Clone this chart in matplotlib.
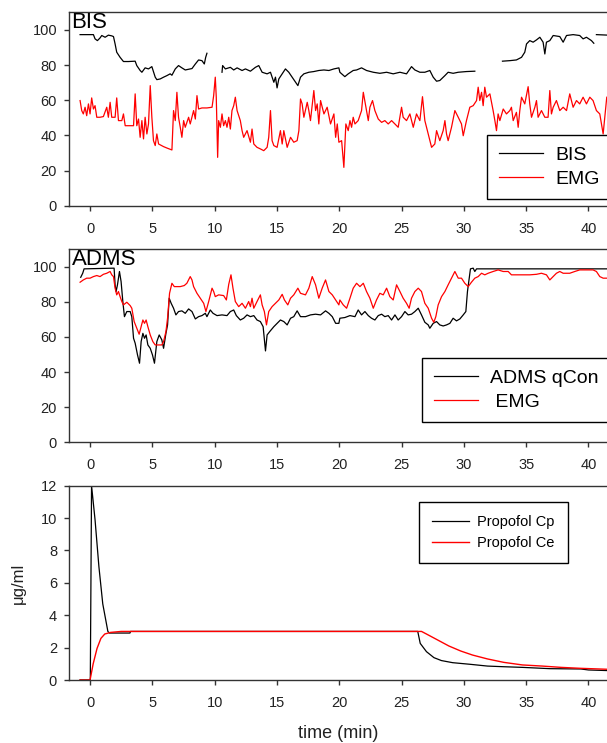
import matplotlib
matplotlib.use("Agg")
import matplotlib.pyplot as plt
import numpy as np

plt.rcParams['font.family'] = ['Liberation Sans', 'DejaVu Sans']

nan = np.nan

# --- BIS panel -----------------------------------------------------------
bis_t = [-0.80, 0.27, 0.40, 0.59, 0.80, 0.94, 1.21, 1.47, 1.74, 1.88, 2.01, 2.14, 2.41, 2.68,
         3.08, 3.62, 3.75, 4.02, 4.16, 4.42, 4.69, 4.96, 5.23, 5.36, 5.63, 5.90, 6.17, 6.43,
         6.57, 6.84, 7.10, 7.37, 7.64, 7.91, 8.18, 8.45, 8.71, 8.98, 9.17, 9.28, 9.38,
         10.0,
         10.59, 10.64, 10.86, 11.26, 11.53, 11.80, 12.20, 12.47, 12.87, 13.27, 13.54, 13.81,
         14.21, 14.48, 14.75, 14.88, 15.01, 15.15, 15.42, 15.68, 15.95, 16.22, 16.49, 16.68,
         16.89, 17.16, 17.56, 17.96, 18.36, 18.77, 19.17, 19.57, 19.97, 20.05, 20.45, 20.72,
         21.12, 21.39, 21.79, 22.19, 22.73, 23.26, 23.80, 24.33, 24.87, 25.40, 25.80, 26.07,
         26.47, 26.87, 27.27, 27.54, 27.81, 28.07, 28.48, 28.74, 29.14, 29.55, 30.21, 30.88,
         32.0,
         33.10, 33.69, 34.22, 34.63, 34.89, 35.03, 35.29, 35.56, 35.83, 36.10, 36.36, 36.50,
         36.63, 36.90, 37.17, 37.70, 37.97, 38.24, 38.77, 39.30, 39.57, 39.84, 40.24, 40.43,
         40.5,
         40.64, 41.60]
bis_v = [97.3, 97.3, 94.9, 93.9, 95.4, 96.8, 95.8, 97.0, 96.6, 96.2, 92.0, 87.3, 84.4, 82.0,
         82.0, 82.2, 79.7, 76.9, 75.9, 78.4, 77.8, 79.1, 73.1, 71.7, 72.1, 73.1, 74.0, 75.0,
         74.2, 77.8, 79.7, 78.4, 77.2, 77.6, 78.0, 80.6, 82.9, 82.5, 80.6, 84.4, 86.7,
         nan,
         75.9, 79.7, 77.8, 78.7, 77.2, 78.4, 76.9, 77.8, 76.5, 78.7, 79.7, 75.9,
         75.0, 75.9, 70.2, 73.1, 67.0, 72.1, 75.0, 77.8, 75.9, 73.1, 70.2, 68.3,
         73.1, 75.0, 75.9, 76.3, 76.9, 77.2, 76.9, 77.8, 78.4, 75.9, 73.4, 75.0,
         76.9, 77.2, 78.4, 76.9, 75.9, 75.3, 75.9, 75.0, 75.9, 75.0, 79.1, 77.2,
         75.9, 75.9, 76.9, 73.1, 70.8, 71.2, 74.0, 75.9, 75.3, 75.9, 76.3, 76.5,
         nan,
         82.2, 82.5, 82.9, 84.4, 87.3, 92.0, 93.9, 93.0, 94.3, 95.8, 93.0, 86.3,
         93.0, 93.9, 96.8, 96.2, 93.0, 96.8, 97.3, 96.8, 94.9, 95.8, 93.9, 92.4,
         nan,
         97.3, 97.0]

emg1_t = [-0.80, -0.67, -0.54, -0.40, -0.27, -0.13, 0.00, 0.13, 0.27, 0.40, 0.54, 0.80, 1.07,
          1.34, 1.47, 1.61, 1.74, 2.01, 2.14, 2.28, 2.55, 2.68, 2.82, 3.22, 3.49, 3.62, 3.75,
          3.89, 4.02, 4.16, 4.29, 4.42, 4.56, 4.69, 4.83, 4.96, 5.09, 5.23, 5.36, 5.50, 5.90,
          6.17, 6.57, 6.70, 6.84, 6.97, 7.10, 7.24, 7.37, 7.51, 7.64, 7.91, 8.04, 8.31, 8.45,
          8.58, 8.71, 8.98, 9.38, 9.79, 9.92, 10.05, 10.13, 10.24, 10.32, 10.46, 10.59, 10.72,
          10.86, 10.99, 11.13, 11.26, 11.39, 11.53, 11.66, 11.80, 12.06, 12.20, 12.33, 12.60,
          12.87, 13.00, 13.14, 13.40, 13.67, 13.94, 14.21, 14.34, 14.48, 14.61, 14.75, 15.01,
          15.28, 15.42, 15.55, 15.82, 16.09, 16.35, 16.62, 16.76, 16.89, 17.02, 17.16, 17.43,
          17.56, 17.69, 17.96, 18.10, 18.23, 18.36, 18.50, 18.77, 19.03, 19.30, 19.57, 19.71,
          19.84, 19.97, 20.19, 20.37, 20.53, 20.72, 20.86, 20.99, 21.12, 21.26, 21.52, 21.79,
          21.93, 22.19, 22.33, 22.46, 22.67, 22.86, 23.13, 23.40, 23.66, 23.93, 24.20, 24.47,
          24.73, 25.00, 25.13, 25.40, 25.67, 25.94, 26.20, 26.47, 26.68, 26.87, 27.14, 27.41,
          27.67, 27.81, 28.07, 28.34, 28.48, 28.61, 28.74, 29.01, 29.28, 29.55, 29.81, 29.95,
          30.21, 30.48, 30.75, 31.02, 31.15, 31.28, 31.42, 31.55, 31.68, 31.82, 32.09, 32.35,
          32.49, 32.62, 32.75, 32.89, 33.16, 33.42, 33.69, 33.82, 33.96, 34.22, 34.36, 34.49,
          34.63, 34.89, 35.16, 35.29, 35.43, 35.70, 35.83, 35.96, 36.23, 36.50, 36.76, 36.90,
          37.03, 37.17, 37.43, 37.70, 37.97, 38.24, 38.50, 38.77, 39.04, 39.30, 39.57, 39.84,
          40.11, 40.37, 40.64, 40.91, 41.18, 41.31, 41.47]
emg1_v = [59.8, 54.1, 52.2, 56.0, 51.2, 57.9, 52.2, 61.3, 55.0, 56.9, 50.3, 50.3, 50.7,
          56.0, 50.3, 58.8, 50.3, 50.3, 61.3, 48.4, 48.4, 52.2, 45.5, 45.5, 45.5, 63.6, 45.5,
          49.3, 38.9, 48.4, 38.0, 50.3, 40.8, 46.5, 68.3, 50.3, 37.0, 34.2, 40.8, 35.1, 33.6,
          32.8, 31.7, 54.1, 48.4, 64.5, 50.3, 44.6, 38.9, 48.4, 44.6, 50.3, 46.5, 54.1, 49.3,
          62.6, 55.0, 55.6, 55.6, 56.0, 62.6, 73.1, 61.7, 27.5, 48.4, 44.6, 52.2, 45.5,
          48.4, 44.6, 50.3, 43.6, 54.1, 56.9, 61.7, 54.1, 48.4, 42.7, 38.9, 42.7,
          36.1, 43.6, 35.1, 33.2, 32.3, 31.3, 33.2, 38.9, 54.1, 37.0, 34.2, 33.2,
          42.7, 35.1, 42.7, 33.2, 38.9, 36.1, 37.0, 42.7, 60.7, 57.9, 50.3, 58.8,
          54.1, 48.4, 65.5, 54.1, 57.9, 46.5, 59.8, 52.2, 56.0, 46.5, 52.2, 38.9,
          46.5, 36.1, 37.0, 21.8, 46.5, 42.7, 48.4, 44.6, 50.3, 46.5, 48.4, 54.1,
          64.5, 54.1, 48.4, 56.0, 59.8, 54.1, 49.3, 47.4, 48.4, 46.5, 48.4, 46.5,
          44.6, 56.0, 50.3, 48.4, 52.2, 44.6, 52.2, 48.4, 62.0, 48.4, 40.8, 33.2,
          35.1, 42.7, 37.0, 42.7, 48.4, 40.8, 37.0, 44.6, 54.1, 50.3, 46.5, 39.8,
          48.4, 56.0, 56.9, 59.8, 67.4, 59.8, 64.5, 56.9, 67.4, 61.7, 63.6, 54.1,
          48.4, 42.7, 52.2, 48.4, 55.0, 52.2, 54.1, 56.0, 48.4, 53.1, 44.6, 54.1,
          61.7, 57.9, 67.7, 57.9, 50.3, 56.0, 59.8, 50.3, 54.1, 50.3, 50.3, 65.5,
          52.2, 56.0, 59.8, 54.1, 56.0, 54.1, 63.6, 56.0, 59.8, 57.9, 61.7, 57.9,
          61.7, 59.8, 54.1, 52.2, 40.8, 50.3, 61.7]

# --- ADMS panel ----------------------------------------------------------
adms_t = [-0.75, -0.59, -0.48, 1.93, 2.01, 2.09, 2.20, 2.36, 2.49, 2.63, 2.76, 2.95, 3.22,
          3.35, 3.49, 3.62, 3.81, 3.97, 4.10, 4.24, 4.37, 4.50, 4.64, 4.83, 5.01, 5.17, 5.36,
          5.55, 5.76, 5.90, 6.09, 6.22, 6.35, 6.51, 6.70, 6.89, 7.10, 7.37, 7.64, 7.91, 8.18,
          8.45, 8.71, 8.98, 9.25, 9.38, 9.65, 9.87, 10.19, 10.59, 10.99, 11.26, 11.53, 11.74,
          12.06, 12.33, 12.60, 12.87, 13.14, 13.40, 13.67, 13.89, 14.08, 14.21, 14.42, 14.75,
          15.01, 15.28, 15.55, 15.82, 16.09, 16.35, 16.62, 16.89, 17.29, 17.69, 18.10, 18.50,
          18.90, 19.17, 19.44, 19.71, 19.97, 20.05, 20.45, 20.86, 21.26, 21.52, 21.79, 22.06,
          22.33, 22.59, 22.86, 23.13, 23.40, 23.66, 23.93, 24.20, 24.47, 24.73, 25.00, 25.27,
          25.53, 25.80, 26.07, 26.34, 26.60, 26.87, 27.14, 27.27, 27.54, 27.81, 28.07, 28.34,
          28.61, 28.88, 29.14, 29.41, 29.68, 29.95, 30.16, 30.29, 30.43, 30.53, 30.75, 30.88,
          31.02, 41.60]
adms_v = [93.9, 96.2, 98.7, 99.1, 89.6, 85.8, 89.6, 97.2, 91.5, 80.1, 71.5, 74.4, 74.4,
          71.5, 59.2, 56.4, 49.7, 45.0, 57.3, 62.0, 59.2, 61.1, 55.4, 53.5, 49.7, 45.0, 57.3,
          61.1, 58.3, 53.5, 62.0, 66.8, 82.0, 79.1, 76.3, 72.5, 74.4, 74.8, 73.4, 75.9, 74.4,
          70.2, 71.5, 72.1, 73.4, 71.5, 75.3, 73.4, 72.1, 72.5, 72.1, 74.4, 75.3, 72.1,
          69.6, 70.6, 72.5, 71.5, 72.1, 69.6, 68.7, 65.8, 52.0, 61.1, 63.0, 65.8,
          67.7, 69.6, 68.7, 66.8, 70.6, 71.5, 74.8, 71.5, 71.5, 72.5, 72.9, 72.5,
          74.8, 73.4, 71.5, 67.7, 67.7, 70.6, 71.0, 72.1, 71.5, 75.3, 72.5, 74.4,
          72.1, 70.6, 69.6, 72.1, 72.9, 71.5, 72.1, 69.6, 72.5, 69.6, 71.5, 74.4,
          72.5, 72.9, 74.4, 76.3, 72.5, 68.3, 66.8, 64.9, 67.7, 68.7, 66.8, 66.2,
          66.8, 67.7, 70.6, 69.1, 70.2, 72.5, 74.4, 85.8, 93.4, 98.7, 99.1, 97.2,
          98.7, 98.7]

emg2_t = [-0.80, -0.54, -0.27, 0.00, 0.27, 0.54, 0.80, 1.07, 1.34, 1.61, 1.74, 1.88, 2.01,
          2.14, 2.28, 2.41, 2.55, 2.68, 2.95, 3.22, 3.35, 3.54, 3.75, 3.94, 4.10, 4.24, 4.37,
          4.50, 4.64, 4.83, 5.04, 5.23, 5.50, 5.76, 5.90, 6.09, 6.22, 6.38, 6.57, 6.76, 6.97,
          7.24, 7.56, 7.77, 8.04, 8.18, 8.31, 8.58, 8.85, 9.12, 9.30, 9.52, 9.79, 9.92, 10.05,
          10.32, 10.72, 10.94, 11.13, 11.31, 11.47, 11.66, 11.93, 12.20, 12.47, 12.73, 12.87,
          13.00, 13.14, 13.40, 13.67, 13.81, 13.99, 14.16, 14.34, 14.61, 14.88, 15.15, 15.42,
          15.60, 15.87, 16.09, 16.35, 16.68, 16.89, 17.29, 17.56, 17.83, 18.10, 18.36, 18.63,
          18.90, 19.17, 19.44, 19.71, 19.97, 20.05, 20.32, 20.59, 20.86, 21.12, 21.39, 21.66,
          21.93, 22.19, 22.46, 22.73, 22.99, 23.26, 23.53, 23.80, 24.06, 24.33, 24.60, 24.87,
          25.13, 25.40, 25.61, 25.80, 26.07, 26.34, 26.60, 26.87, 27.14, 27.41, 27.59, 27.75,
          27.94, 28.21, 28.48, 28.74, 29.01, 29.28, 29.55, 29.81, 30.08, 30.35, 30.61, 30.88,
          31.15, 31.42, 31.68, 31.95, 32.35, 32.75, 33.16, 33.56, 33.82, 34.22, 34.76, 35.29,
          35.83, 36.23, 36.63, 36.90, 37.17, 37.43, 37.70, 37.97, 38.50, 38.90, 39.30, 39.84,
          40.37, 40.64, 40.91, 41.18, 41.60]
emg2_v = [91.1, 92.4, 93.4, 93.4, 94.3, 94.9, 94.3, 95.6, 96.2, 97.2, 95.3, 94.3, 87.7,
          83.9, 85.8, 82.9, 80.1, 78.2, 79.7, 77.8, 76.3, 68.7, 64.9, 61.5, 65.8, 69.6, 67.7,
          69.6, 65.8, 61.1, 57.3, 55.4, 55.4, 55.4, 57.3, 63.0, 70.6, 84.8, 90.5, 88.6, 88.6,
          88.6, 89.2, 90.5, 94.3, 92.4, 88.6, 84.8, 82.0, 79.1, 74.4, 80.1, 87.7, 85.8, 82.9,
          83.9, 83.5, 81.0, 89.9, 95.3, 87.7, 80.1, 77.2, 79.1, 76.3, 80.1, 77.2,
          82.0, 76.3, 80.1, 83.9, 78.2, 74.4, 66.8, 74.4, 77.2, 79.1, 81.0, 84.2,
          81.0, 78.2, 82.0, 83.9, 87.7, 84.8, 83.9, 87.7, 94.3, 89.6, 82.0, 87.7,
          92.4, 85.8, 83.9, 81.0, 78.2, 81.0, 78.2, 76.3, 82.0, 87.7, 90.5, 88.6,
          90.5, 85.8, 82.0, 76.3, 81.0, 84.8, 83.9, 87.7, 82.9, 81.0, 89.6, 85.8,
          82.0, 79.1, 76.3, 82.0, 85.8, 87.7, 85.8, 79.1, 76.3, 70.6, 68.3, 71.5,
          78.2, 82.9, 85.8, 89.6, 93.4, 97.2, 93.4, 93.4, 90.5, 88.6, 91.1, 93.4,
          94.3, 96.2, 95.3, 96.2, 97.2, 98.1, 97.2, 97.2, 95.3, 95.3, 95.3, 95.3,
          95.6, 96.2, 95.3, 92.4, 94.3, 96.2, 97.2, 96.2, 96.2, 97.2, 98.1, 98.1,
          98.1, 97.2, 94.3, 93.4, 93.4]

# --- Propofol panel ------------------------------------------------------
cp_t = [-0.80, 0.02, 0.12, 0.40, 0.71, 1.02, 1.43, 1.55, 3.20, 3.25, 26.30, 26.50, 27.00,
        27.60, 28.20, 29.10, 30.50, 31.90, 33.20, 34.70, 36.90, 39.40, 40.00, 41.60]
cp_v = [0.0, 0.0, 12.0, 9.9, 7.0, 4.7, 3.0, 2.9, 2.9, 3.0, 3.0, 2.26, 1.75,
        1.38, 1.20, 1.07, 0.97, 0.86, 0.82, 0.78, 0.70, 0.68, 0.62, 0.58]
ce_t = [-0.80, 0.00, 0.25, 0.56, 0.87, 1.18, 1.65, 2.50, 26.60, 27.00, 27.90, 28.80, 29.75,
        30.70, 31.90, 33.20, 34.70, 36.30, 37.80, 39.40, 41.60]
ce_v = [0.0, 0.0, 1.0, 1.95, 2.57, 2.84, 2.94, 3.0, 3.0, 2.84, 2.47, 2.10, 1.79,
        1.54, 1.30, 1.09, 0.93, 0.86, 0.78, 0.72, 0.66]

x_ticks = [0, 5, 10, 15, 20, 25, 30, 35, 40]

W, H = 607, 743
fig = plt.figure(figsize=(W / 100, H / 100), dpi=100)

left = 69 / W
right = 610 / W
xlim = (-1.69, 41.73)
panels = [(12.3, 205.7), (249.0, 442.3), (485.7, 680.0)]


def make_ax(top, bottom):
    ax = fig.add_axes([left, 1 - bottom / H, right - left, (bottom - top) / H])
    ax.set_xlim(*xlim)
    ax.set_xticks(x_ticks)
    for s in ax.spines.values():
        s.set_color('#333333')
        s.set_linewidth(1.0)
    ax.tick_params(direction='out', length=3.6, width=1, colors='#333333',
                   labelsize=10.5, labelcolor='#222222')
    ax.tick_params(axis='x', pad=8)
    ax.tick_params(axis='y', pad=5)
    return ax


def add_legend(ax, x, y, fs, hl, lsp, bpad):
    leg = ax.legend(loc='upper left', bbox_to_anchor=(x / W, 1 - y / H),
                    bbox_transform=fig.transFigure, fontsize=fs, handlelength=hl,
                    labelspacing=lsp, borderpad=bpad, handletextpad=0.6,
                    borderaxespad=0, fancybox=False, framealpha=1)
    leg.get_frame().set_edgecolor('black')
    leg.get_frame().set_linewidth(1.0)
    return leg


# BIS
ax1 = make_ax(*panels[0])
ax1.plot(bis_t, bis_v, color='black', lw=0.9, label='BIS')
ax1.plot(emg1_t, emg1_v, color='#ff0000', lw=0.9, label='EMG')
ax1.set_ylim(0, 110)
ax1.set_yticks([0, 20, 40, 60, 80, 100])
ax1.text(0.004, 1.0, 'BIS', transform=ax1.transAxes, ha='left', va='top', fontsize=16)
add_legend(ax1, 487, 135, 14, 2.3, 0.3, 0.6)

# ADMS
ax2 = make_ax(*panels[1])
ax2.plot(adms_t, adms_v, color='black', lw=0.9, label='ADMS qCon')
ax2.plot(emg2_t, emg2_v, color='#ff0000', lw=0.9, label=' EMG')
ax2.set_ylim(0, 110)
ax2.set_yticks([0, 20, 40, 60, 80, 100])
ax2.text(0.006, 1.0, 'ADMS', transform=ax2.transAxes, ha='left', va='top', fontsize=16)
add_legend(ax2, 422, 358, 14, 2.3, 0.3, 0.6)

# Propofol
ax3 = make_ax(*panels[2])
ax3.plot(cp_t, cp_v, color='black', lw=0.9, label='Propofol Cp')
ax3.plot(ce_t, ce_v, color='#ff0000', lw=1.0, label='Propofol Ce')
ax3.set_ylim(0, 12)
ax3.set_yticks([0, 2, 4, 6, 8, 10, 12])
add_legend(ax3, 419, 502, 10.5, 2.5, 0.45, 0.9)

fig.text((69 + 607) / 2 / W, 1 - 734 / H, 'time (min)', ha='center', va='center',
         fontsize=13, color='#222222')
fig.text(18.6 / W, 1 - 583 / H, 'μg/ml', ha='center', va='center', rotation=90,
         fontsize=12, color='#222222')

fig.savefig('out.png', dpi=100)
